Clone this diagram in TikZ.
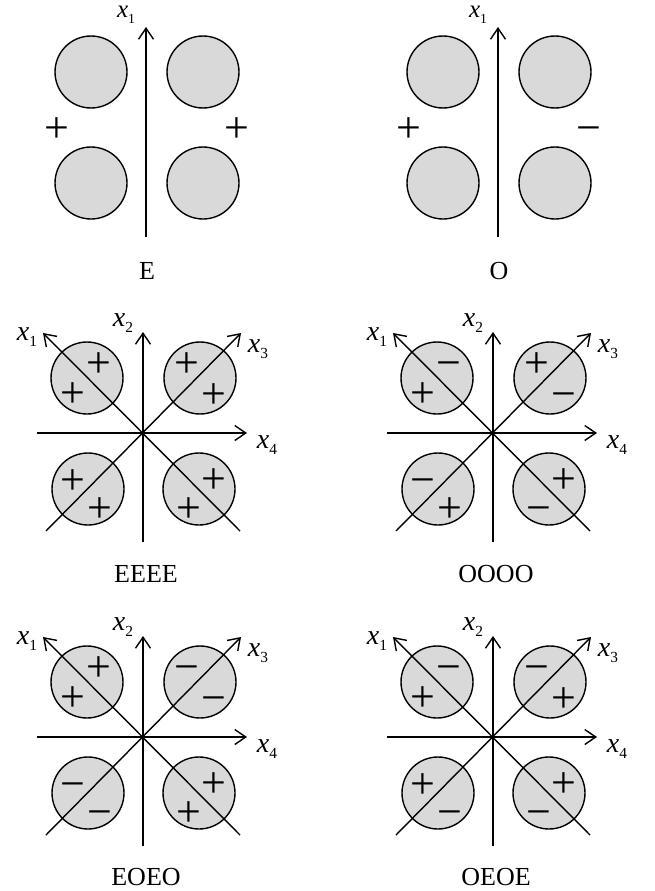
\documentclass[tikz,border=0pt]{standalone}
\usepackage{fontspec}
\setmainfont{Liberation Serif}
\usepackage{tikz}
\usetikzlibrary{arrows.meta}
\definecolor{lobegray}{HTML}{D9D9D9}
\tikzset{
  lobe/.style={circle,draw=black,fill=lobegray,line width=1.4pt,minimum size=72pt,inner sep=0pt},
  axis/.style={-{Straight Barb[length=11pt,width=15pt]},line width=1.4pt},
  axlab/.style={font=\fontsize{28}{30}\selectfont,inner sep=0pt},
  sgn/.style={font=\fontsize{44}{44}\selectfont,inner sep=0pt,text height=29pt,text depth=0pt},
  caption/.style={font=\fontsize{26}{28}\selectfont,inner sep=0pt},
}
\newcommand\xsub[1]{\textit{x}\raisebox{-0.22em}{\scalebox{0.55}{#1}}}
% two lobes on each side of one axis
\newcommand\pairpanel[4]{%
  \node[lobe] (#1nw) at (-55,72) {};
  \node[lobe] (#1ne) at (57,72) {};
  \node[lobe] (#1sw) at (-55,183) {};
  \node[lobe] (#1se) at (57,183) {};
  \coordinate (#1s) at (0,237);
  \coordinate (#1n) at (0,27);
  \draw[axis] (#1s) -- (#1n);
  \node[axlab,font=\fontsize{25}{27}\selectfont] (#1x1) at (-20,15) {\xsub{1}};
  \node[sgn] (#1l) at (-89,128) {#2};
  \node[sgn] (#1r) at (91,128) {#3};
  \node[caption] (#1cap) at (1,271) {#4};
}
% four lobes cut by the two diagonals
\newcommand\crosspanel[9]{%
  \node[lobe] (#1nw) at (-56,-55) {};
  \node[lobe] (#1ne) at (57,-55) {};
  \node[lobe] (#1sw) at (-55,56) {};
  \node[lobe] (#1se) at (56,56) {};
  \coordinate (#1w) at (-106,0);
  \coordinate (#1e) at (104,0);
  \coordinate (#1s) at (0,109);
  \coordinate (#1n) at (0,-101);
  \coordinate (#1a) at (97,98);
  \coordinate (#1b) at (-100,-100);
  \coordinate (#1c) at (-97,98);
  \coordinate (#1d) at (98,-100);
  \draw[axis] (#1w) -- (#1e);
  \draw[axis] (#1s) -- (#1n);
  \draw[axis] (#1a) -- (#1b);
  \draw[axis] (#1c) -- (#1d);
  \node[axlab] (#1x1) at (-116,-96) {\xsub{1}};
  \node[axlab] (#1x2) at (-20,-110) {\xsub{2}};
  \node[axlab] (#1x3) at (115,-84) {\xsub{3}};
  \node[axlab] (#1x4) at (124,12) {\xsub{4}};
  \node[sgn] (#1nwa) at ([shift={(12,-15)}]#1nw.center) {#2};
  \node[sgn] (#1nwb) at ([shift={(-14,15)}]#1nw.center) {#3};
  \node[sgn] (#1nea) at ([shift={(-13,-15)}]#1ne.center) {#4};
  \node[sgn] (#1neb) at ([shift={(14,16)}]#1ne.center) {#5};
  \node[sgn] (#1swa) at ([shift={(-15,-9)}]#1sw.center) {#6};
  \node[sgn] (#1swb) at ([shift={(12,19)}]#1sw.center) {#7};
  \node[sgn] (#1sea) at ([shift={(15,-10)}]#1se.center) {#8};
  \node[sgn] (#1seb) at ([shift={(-10,19)}]#1se.center) {#9};
}
\begin{document}
\begin{tikzpicture}[x=1pt,y=-1pt]
  \useasboundingbox (0,0) rectangle (655,891);
  \begin{scope}[shift={(146,0)}]
    \pairpanel{e}{+}{+}{E}
  \end{scope}
  \begin{scope}[shift={(498,0)}]
    \pairpanel{o}{+}{−}{O}
  \end{scope}

  \begin{scope}[shift={(143,433)}]
    \crosspanel{eeee}{+}{+}{+}{+}{+}{+}{+}{+}
    \node[caption] (eeeecap) at (3,141) {EEEE};
  \end{scope}
  \begin{scope}[shift={(493,433)}]
    \crosspanel{oooo}{−}{+}{+}{−}{−}{+}{+}{−}
    \node[caption] (oooocap) at (3,141) {OOOO};
  \end{scope}
  \begin{scope}[shift={(143,737)}]
    \crosspanel{eoeo}{+}{+}{−}{−}{−}{−}{+}{+}
    \node[caption] (eoeocap) at (3,140) {EOEO};
  \end{scope}
  \begin{scope}[shift={(493,737)}]
    \crosspanel{oeoe}{−}{+}{−}{+}{+}{−}{+}{−}
    \node[caption] (oeoecap) at (3,140) {OEOE};
  \end{scope}
\end{tikzpicture}
\end{document}
